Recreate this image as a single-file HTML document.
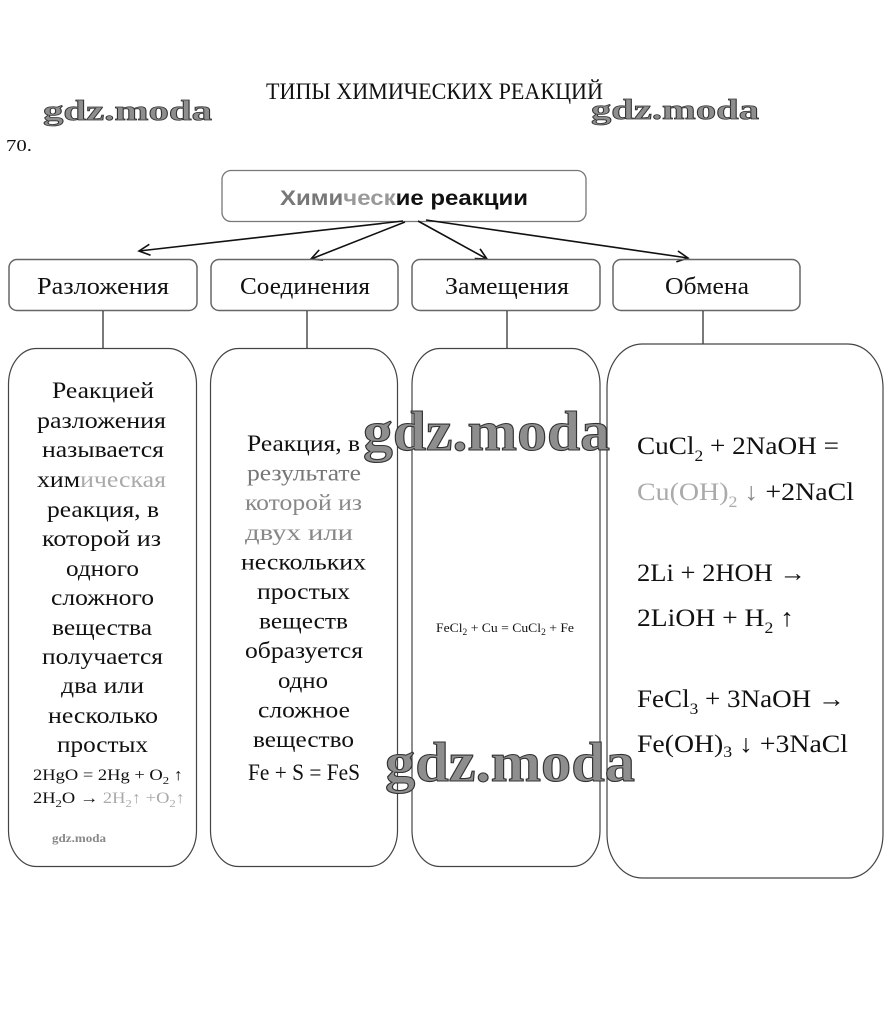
<!DOCTYPE html>
<html>
<head>
<meta charset="utf-8">
<style>
  html, body { margin:0; padding:0; background:#fff; }
  svg { display:block; }
  .s { font-family: "Liberation Serif", "DejaVu Serif", serif; fill:#111; }
  .t { font-size:23px; }
  .f { font-size:25px; }
  .wm { font-family: "Liberation Serif", serif; font-weight:bold; fill:#8e8e8e; stroke:#333; }
</style>
</head>
<body>
<svg width="892" height="1019" viewBox="0 0 892 1019" xmlns="http://www.w3.org/2000/svg">
  <defs>
    <marker id="ah" markerUnits="userSpaceOnUse" markerWidth="14" markerHeight="14" refX="12" refY="6" orient="auto">
      <path d="M1,0.5 L12,6 L1,11.5" fill="none" stroke="#111" stroke-width="1.6"/>
    </marker>
  </defs>
  <rect x="0" y="0" width="892" height="1019" fill="#fff"/>

  <!-- title -->
  <text class="s" x="266" y="99" font-size="23" textLength="337" lengthAdjust="spacingAndGlyphs">ТИПЫ ХИМИЧЕСКИХ РЕАКЦИЙ</text>
  <text class="s" x="6" y="151" font-size="17" textLength="26" lengthAdjust="spacingAndGlyphs">70.</text>

  <!-- top watermarks -->
  <text class="wm" x="43" y="120" font-size="29" stroke-width="0.8" textLength="169" lengthAdjust="spacingAndGlyphs">gdz.moda</text>
  <text class="wm" x="591" y="119" font-size="29" stroke-width="0.8" textLength="168" lengthAdjust="spacingAndGlyphs">gdz.moda</text>

  <!-- top box -->
  <rect x="222" y="170.5" width="364" height="51" rx="9" ry="9" fill="none" stroke="#777" stroke-width="1.3"/>
  <text x="280" y="205" font-family="Liberation Sans, Arial, sans-serif" font-weight="bold" font-size="21" textLength="248" lengthAdjust="spacingAndGlyphs"><tspan fill="#777">Хими</tspan><tspan fill="#999">ческ</tspan><tspan fill="#111">ие реакции</tspan></text>

  <!-- arrows -->
  <g stroke="#111" stroke-width="1.6" fill="none">
    <line x1="403" y1="221" x2="139" y2="251" marker-end="url(#ah)"/>
    <line x1="405" y1="222" x2="311" y2="259" marker-end="url(#ah)"/>
    <line x1="418" y1="221" x2="487" y2="259" marker-end="url(#ah)"/>
    <line x1="426" y1="220" x2="688" y2="258" marker-end="url(#ah)"/>
  </g>

  <!-- label boxes -->
  <g fill="none" stroke="#666" stroke-width="1.5">
    <rect x="9" y="259.5" width="188" height="51" rx="8" ry="8"/>
    <rect x="211" y="259.5" width="187" height="51" rx="8" ry="8"/>
    <rect x="412" y="259.5" width="188" height="51" rx="8" ry="8"/>
    <rect x="613" y="259.5" width="187" height="51" rx="8" ry="8"/>
  </g>
  <text class="s" x="37" y="294" font-size="24" textLength="132" lengthAdjust="spacingAndGlyphs">Разложения</text>
  <text class="s" x="240" y="294" font-size="24" textLength="130" lengthAdjust="spacingAndGlyphs">Соединения</text>
  <text class="s" x="445" y="294" font-size="24" textLength="124" lengthAdjust="spacingAndGlyphs">Замещения</text>
  <text class="s" x="665" y="294" font-size="24" textLength="84" lengthAdjust="spacingAndGlyphs">Обмена</text>

  <!-- connectors -->
  <g stroke="#222" stroke-width="1.2">
    <line x1="103" y1="311" x2="103" y2="349"/>
    <line x1="307" y1="311" x2="307" y2="349"/>
    <line x1="507" y1="311" x2="507" y2="349"/>
    <line x1="703" y1="311" x2="703" y2="344"/>
  </g>

  <!-- big boxes -->
  <g fill="none" stroke="#444" stroke-width="1.2">
    <rect x="8.5" y="348.5" width="188" height="518" rx="28" ry="36"/>
    <rect x="210.5" y="348.5" width="187" height="518" rx="28" ry="36"/>
    <rect x="412" y="348.5" width="188" height="518" rx="28" ry="36"/>
    <rect x="607" y="344" width="276" height="534" rx="35" ry="44"/>
  </g>

  <!-- box 1 text -->
  <g class="s t">
    <text x="52" y="398" textLength="102" lengthAdjust="spacingAndGlyphs">Реакцией</text>
    <text x="37" y="428" textLength="129" lengthAdjust="spacingAndGlyphs">разложения</text>
    <text x="42" y="457" textLength="122" lengthAdjust="spacingAndGlyphs">называется</text>
    <text x="37" y="487" textLength="129" lengthAdjust="spacingAndGlyphs">хим<tspan fill="#aaa">ическая</tspan></text>
    <text x="47" y="517" textLength="112" lengthAdjust="spacingAndGlyphs">реакция, в</text>
    <text x="42" y="546" textLength="119" lengthAdjust="spacingAndGlyphs">которой из</text>
    <text x="66" y="576" textLength="73" lengthAdjust="spacingAndGlyphs">одного</text>
    <text x="51" y="605" textLength="103" lengthAdjust="spacingAndGlyphs">сложного</text>
    <text x="52" y="635" textLength="100" lengthAdjust="spacingAndGlyphs">вещества</text>
    <text x="42" y="664" textLength="121" lengthAdjust="spacingAndGlyphs">получается</text>
    <text x="61" y="693" textLength="83" lengthAdjust="spacingAndGlyphs">два или</text>
    <text x="48" y="723" textLength="110" lengthAdjust="spacingAndGlyphs">несколько</text>
    <text x="57" y="752" textLength="91" lengthAdjust="spacingAndGlyphs">простых</text>
  </g>
  <text class="s" x="33" y="780" font-size="16" textLength="150" lengthAdjust="spacingAndGlyphs">2HgO = 2Hg + O<tspan font-size="11" dy="4">2</tspan><tspan dy="-4"> ↑</tspan></text>
  <text class="s" x="33" y="803" font-size="16" textLength="152" lengthAdjust="spacingAndGlyphs">2H<tspan font-size="11" dy="4">2</tspan><tspan dy="-4">O → </tspan><tspan fill="#aaa">2H</tspan><tspan fill="#aaa" font-size="11" dy="4">2</tspan><tspan fill="#aaa" dy="-4">↑ +O</tspan><tspan fill="#aaa" font-size="11" dy="4">2</tspan><tspan fill="#aaa" dy="-4">↑</tspan></text>
  <text x="52" y="842" font-family="Liberation Serif, serif" font-weight="bold" font-size="12" fill="#888" textLength="54" lengthAdjust="spacingAndGlyphs">gdz.moda</text>

  <!-- box 2 text -->
  <g class="s t">
    <text x="247" y="451" textLength="113" lengthAdjust="spacingAndGlyphs">Реакция, в</text>
    <text x="247" y="480.6" textLength="114" lengthAdjust="spacingAndGlyphs" fill="#777">результате</text>
    <text x="245" y="510.2" textLength="117" lengthAdjust="spacingAndGlyphs" fill="#888">которой из</text>
    <text x="245" y="539.8" textLength="108" lengthAdjust="spacingAndGlyphs" fill="#888">двух или</text>
    <text x="241" y="569.4" textLength="125" lengthAdjust="spacingAndGlyphs">нескольких</text>
    <text x="257" y="599" textLength="93" lengthAdjust="spacingAndGlyphs">простых</text>
    <text x="259" y="628.6" textLength="89" lengthAdjust="spacingAndGlyphs">веществ</text>
    <text x="245" y="658.2" textLength="118" lengthAdjust="spacingAndGlyphs">образуется</text>
    <text x="278" y="687.8" textLength="50" lengthAdjust="spacingAndGlyphs">одно</text>
    <text x="258" y="717.4" textLength="92" lengthAdjust="spacingAndGlyphs">сложное</text>
    <text x="253" y="747" textLength="101" lengthAdjust="spacingAndGlyphs">вещество</text>
    <text x="248" y="780" textLength="112" lengthAdjust="spacingAndGlyphs">Fe + S = FeS</text>
  </g>

  <!-- box 3 text -->
  <text class="s" x="436" y="632" font-size="13" textLength="138" lengthAdjust="spacingAndGlyphs">FeCl<tspan font-size="9" dy="3">2</tspan><tspan dy="-3"> + Cu = CuCl</tspan><tspan font-size="9" dy="3">2</tspan><tspan dy="-3"> + Fe</tspan></text>

  <!-- box 4 text -->
  <g class="s f">
    <text x="637" y="454" textLength="202" lengthAdjust="spacingAndGlyphs">CuCl<tspan font-size="16" dy="7">2</tspan><tspan dy="-7"> + 2NaOH =</tspan></text>
    <text x="637" y="500" textLength="217" lengthAdjust="spacingAndGlyphs"><tspan fill="#aaa">Cu(OH)</tspan><tspan fill="#aaa" font-size="16" dy="7">2</tspan><tspan fill="#888" dy="-7"> ↓ </tspan><tspan>+2NaCl</tspan></text>
    <text x="637" y="581" textLength="169" lengthAdjust="spacingAndGlyphs">2Li + 2HOH →</text>
    <text x="637" y="626" textLength="157" lengthAdjust="spacingAndGlyphs">2LiOH + H<tspan font-size="16" dy="7">2</tspan><tspan dy="-7"> ↑</tspan></text>
    <text x="637" y="707" textLength="208" lengthAdjust="spacingAndGlyphs">FeCl<tspan font-size="16" dy="7">3</tspan><tspan dy="-7"> + 3NaOH →</tspan></text>
    <text x="637" y="752" textLength="211" lengthAdjust="spacingAndGlyphs">Fe(OH)<tspan font-size="16" dy="5">3</tspan><tspan dy="-5"> ↓ +3NaCl</tspan></text>
  </g>

  <!-- big watermarks -->
  <text class="wm" x="363" y="450" font-size="56" stroke-width="1.1" textLength="247" lengthAdjust="spacingAndGlyphs">gdz.moda</text>
  <text class="wm" x="385" y="781" font-size="56" stroke-width="1.1" textLength="250" lengthAdjust="spacingAndGlyphs">gdz.moda</text>
</svg>
</body>
</html>
